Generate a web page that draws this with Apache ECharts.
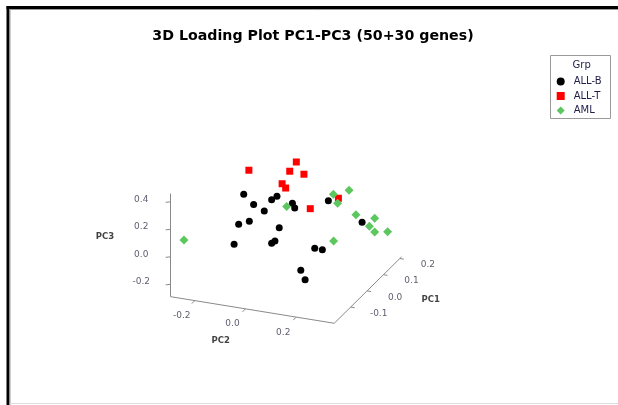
<!DOCTYPE html>
<html>
<head>
<meta charset="utf-8">
<script src="https://cdn.jsdelivr.net/npm/echarts@6/dist/echarts.min.js"></script>
<style>
html, body { margin: 0; padding: 0; background: #fff; }
#chart { width: 618px; height: 405px; }
</style>
</head>
<body>
<div id="chart"></div>
<script>
// loadings [PC1, PC2, PC3]; PC1 (depth) is a guess
var groups = ['ALL-B', 'ALL-T', 'AML'];
var allB = [
  [-0.05, -0.104, 0.335], [-0.05, -0.065, 0.272], [-0.05, 0.006, 0.329],
  [-0.05, 0.027, 0.360], [-0.05, -0.023, 0.238], [-0.05, 0.088, 0.327],
  [-0.05, 0.097, 0.296], [-0.05, -0.124, 0.111], [-0.05, -0.082, 0.146],
  [-0.05, 0.036, 0.134], [-0.05, 0.006, 0.012], [-0.05, 0.019, 0.033],
  [-0.05, -0.142, -0.040], [-0.05, 0.176, 0.027], [-0.05, 0.206, 0.025],
  [-0.05, 0.121, -0.150], [-0.05, 0.138, -0.213], [0.05, 0.165, 0.252],
  [0.05, 0.298, 0.134]
];
var allT = [
  [0.15, -0.213, 0.242], [0.15, -0.026, 0.358], [0.15, -0.052, 0.283],
  [0.15, 0.004, 0.278], [0.15, -0.082, 0.183], [0.15, -0.068, 0.156],
  [0.15, 0.029, 0.035], [0.15, 0.140, 0.144]
];
var aml = [
  [-0.15, -0.275, 0.070], [0.15, -0.064, 0.022], [0.15, 0.120, 0.167],
  [0.15, 0.182, 0.215], [0.15, 0.137, 0.107], [0.15, 0.209, 0.045],
  [0.15, 0.283, 0.041], [0.15, 0.262, -0.023], [0.15, 0.283, -0.058],
  [0.15, 0.334, -0.041], [0.15, 0.121, -0.172]
];
var pc1Range = [-0.2, 0.21];
var pc2Range = [-0.295, 0.35];
var pc3Range = [-0.29, 0.46];
var pc1Ticks = [-0.1, 0.0, 0.1, 0.2];
var pc2Ticks = [-0.2, 0.0, 0.2];
var pc3Ticks = [-0.2, 0.0, 0.2, 0.4];

// simple oblique projection of the 3d box onto the page
var corner = [170.7, 296.7];   // screen point of (min, min, min)
var e1 = [164, -162], e2 = [253.6, 41.2], e3 = [0, -137.5];
function proj(p) {
  var a = p[0] - pc1Range[0], b = p[1] - pc2Range[0], c = p[2] - pc3Range[0];
  return [corner[0] + a * e1[0] + b * e2[0] + c * e3[0],
          corner[1] + a * e1[1] + b * e2[1] + c * e3[1]];
}
function add(p, d) { return [p[0] + d[0], p[1] + d[1]]; }

var lo1 = pc1Range[0], hi1 = pc1Range[1], lo2 = pc2Range[0], hi2 = pc2Range[1], lo3 = pc3Range[0], hi3 = pc3Range[1];
var segs = [
  { coords: [proj([lo1, lo2, lo3]), proj([lo1, lo2, hi3])] },
  { coords: [proj([lo1, lo2, lo3]), proj([lo1, hi2, lo3])] },
  { coords: [proj([lo1, hi2, lo3]), proj([hi1, hi2, lo3])] }
];
var tickLabels = [];
pc3Ticks.forEach(function (v) {
  var p = proj([lo1, lo2, v]);
  segs.push({ coords: [p, add(p, [-5, 0.5])] });
  tickLabels.push({ name: v.toFixed(1), value: add(p, [-29.5, -2.5]) });
});
pc2Ticks.forEach(function (v) {
  var p = proj([lo1, v, lo3]);
  segs.push({ coords: [p, add(p, [-3, 3])] });
  tickLabels.push({ name: v.toFixed(1), value: add(p, [-13, 15.3]) });
});
pc1Ticks.forEach(function (v) {
  var p = proj([v, hi2, lo3]);
  segs.push({ coords: [p, add(p, [4, 0.7])] });
  tickLabels.push({ name: v.toFixed(1), value: add(p, [28, 6.3]) });
});
var axisNames = [
  { name: 'PC3', value: add(proj([lo1, lo2, (lo3 + hi3) / 2]), [-65.7, -8.4]) },
  { name: 'PC2', value: add(proj([lo1, 0, lo3]), [-24.8, 31.9]) },
  { name: 'PC1', value: add(proj([0, hi2, lo3]), [63.7, 9.1]) }
];

var myChart = echarts.init(document.getElementById('chart'));
var option = {
  animation: false,
  backgroundColor: '#fff',
  title: {
    text: '3D Loading Plot PC1-PC3 (50+30 genes)',
    left: 313,
    textAlign: 'center',
    top: 29,
    padding: 0,
    textStyle: { fontFamily: 'DejaVu Sans', fontWeight: 'bold', fontSize: 14.2, color: '#000' }
  },
  legend: {
    data: [
      { name: 'ALL-B', icon: 'circle' },
      { name: 'ALL-T', icon: 'rect' },
      { name: 'AML', icon: 'diamond' }
    ],
    orient: 'vertical',
    left: 556.7,
    top: 76.5,
    padding: 0,
    itemWidth: 8,
    itemHeight: 8,
    itemGap: 4.5,
    textStyle: { fontFamily: 'DejaVu Sans', fontSize: 10, color: '#1e1e48', padding: [0, 0, 0, 4] }
  },
  grid: { left: 0, top: 0, width: 618, height: 405 },
  xAxis: { type: 'value', min: 0, max: 618, show: false },
  yAxis: { type: 'value', min: 0, max: 405, inverse: true, show: false },
  graphic: [
    { type: 'rect', shape: { x: 6.5, y: 6, width: 620, height: 3 }, style: { fill: '#000' } },
    { type: 'rect', shape: { x: 6.5, y: 6, width: 3, height: 400 }, style: { fill: '#000' } },
    { type: 'line', shape: { x1: 9.5, y1: 9.5, x2: 618, y2: 9.5 }, style: { stroke: '#9a9a9a', lineWidth: 1 } },
    { type: 'line', shape: { x1: 10, y1: 9.5, x2: 10, y2: 405 }, style: { stroke: '#9a9a9a', lineWidth: 1 } },
    { type: 'line', shape: { x1: 10, y1: 403.5, x2: 618, y2: 403.5 }, style: { stroke: '#dddddd', lineWidth: 1 } },
    { type: 'rect', shape: { x: 550.5, y: 55.5, width: 60, height: 63 }, style: { fill: '#fff', stroke: '#9a9a9a', lineWidth: 1 } },
    { type: 'text', x: 581.7, y: 65, style: { text: 'Grp', fill: '#1e1e48', font: '10px "DejaVu Sans"', align: 'center', verticalAlign: 'middle' } }
  ],
  series: [
    {
      type: 'lines', coordinateSystem: 'cartesian2d', silent: true,
      lineStyle: { color: '#8a8a8a', width: 1, opacity: 1 },
      data: segs
    },
    {
      type: 'scatter', silent: true, symbolSize: 0,
      label: { show: true, position: 'inside', formatter: '{b}', fontFamily: 'DejaVu Sans', fontSize: 9, color: '#33334a' },
      data: tickLabels
    },
    {
      type: 'scatter', silent: true, symbolSize: 0,
      label: { show: true, position: 'inside', formatter: '{b}', fontFamily: 'DejaVu Sans', fontWeight: 'bold', fontSize: 8.5, color: '#111' },
      data: axisNames
    },
    {
      name: 'ALL-B', type: 'scatter', symbol: 'circle', symbolSize: 7,
      itemStyle: { color: '#000', opacity: 1 },
      data: allB.map(proj)
    },
    {
      name: 'ALL-T', type: 'scatter', symbol: 'rect', symbolSize: 7,
      itemStyle: { color: '#ff0000', opacity: 1 },
      data: allT.map(proj)
    },
    {
      name: 'AML', type: 'scatter', symbol: 'diamond', symbolSize: 9,
      itemStyle: { color: '#5dc75f', opacity: 1 },
      data: aml.map(proj)
    }
  ]
};
myChart.setOption(option);
</script>
</body>
</html>
